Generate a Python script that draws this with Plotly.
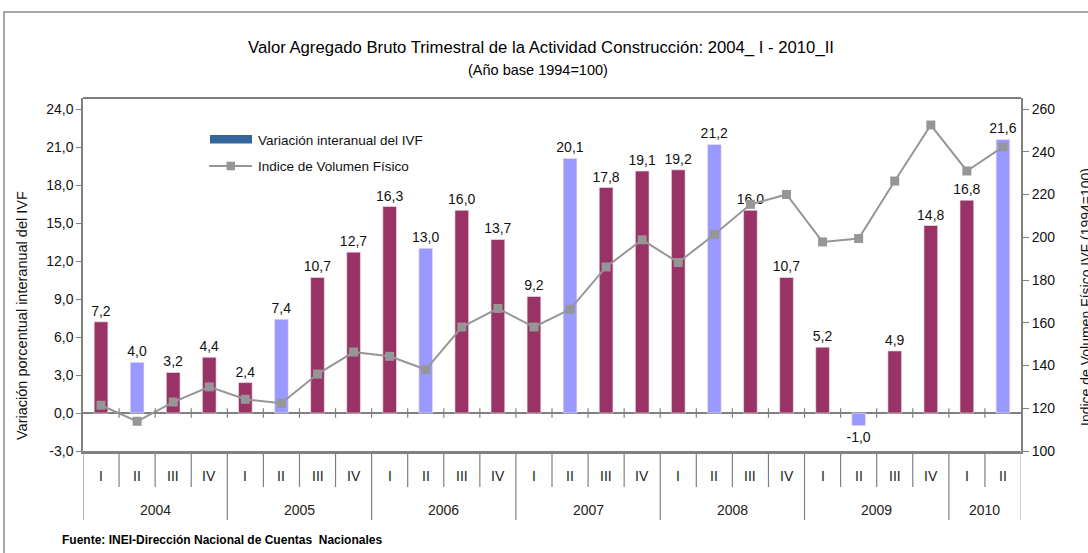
import plotly.graph_objects as go

# ---------------- data ----------------
years = ["2004", "2005", "2006", "2007", "2008", "2009", "2010"]
quarters_per_year = [4, 4, 4, 4, 4, 4, 2]
quarter_names = ["I", "II", "III", "IV"]
quarters = [quarter_names[q] for n in quarters_per_year for q in range(n)]

variacion_ivf = [7.2, 4.0, 3.2, 4.4,
                 2.4, 7.4, 10.7, 12.7,
                 16.3, 13.0, 16.0, 13.7,
                 9.2, 20.1, 17.8, 19.1,
                 19.2, 21.2, 16.0, 10.7,
                 5.2, -1.0, 4.9, 14.8,
                 16.8, 21.6]

indice_vf = [121.4, 113.9, 122.9, 130.0,
             124.2, 122.3, 136.0, 146.3,
             144.3, 138.1, 158.0, 166.7,
             158.0, 166.3, 186.1, 198.8,
             188.2, 201.3, 215.4, 220.0,
             197.8, 199.4, 226.3, 252.5,
             231.0, 242.3]

left_ticks = [-3, 0, 3, 6, 9, 12, 15, 18, 21, 24]
left_tick_text = [f"{v:.1f}".replace(".", ",") for v in left_ticks]
right_ticks = [100, 120, 140, 160, 180, 200, 220, 240, 260]

title = "Valor Agregado Bruto Trimestral de la Actividad Construcción: 2004_ I - 2010_II"
subtitle = "(Año base 1994=100)"
left_title = "Variación porcentual interanual del IVF"
right_title = "Indice de Volumen Físico IVF (1994=100)"
source = "Fuente: INEI-Dirección Nacional de Cuentas  Nacionales"
legend_bar = "Variación interanual del IVF"
legend_line = "Indice de Volumen Físico"

# ---------------- styling ----------------
W, H = 1088, 553
PL, PR, PT, PB = 83, 1021, 98, 451      # plot-area pixel box
MAROON = "#993366"
LILAC = "#9999FF"
LEGBLUE = "#34659B"
GRAY = "#969696"
AXGRAY = "#808080"
FONT = "Liberation Sans, Arial, sans-serif"


def px(xp):
    return (xp - PL) / (PR - PL)


def py(yp):
    return (PB - yp) / (PB - PT)


n = len(variacion_ivf)
xs = list(range(n))
bar_colors = [LILAC if q == "II" else MAROON for q in quarters]
bar_text = [f"{v:.1f}".replace(".", ",") for v in variacion_ivf]

fig = go.Figure()
fig.add_trace(go.Bar(
    x=xs, y=variacion_ivf, marker=dict(color=bar_colors, line=dict(color="#f3e6ee", width=0.6)),
    width=0.38, text=bar_text, texttemplate="%{text}", textposition="outside",
    textfont=dict(family=FONT, size=14, color="#111111"), constraintext="none",
    cliponaxis=False, yaxis="y", showlegend=False, hoverinfo="skip"))
fig.add_trace(go.Scatter(
    x=xs, y=indice_vf, mode="lines+markers", yaxis="y2",
    line=dict(color=GRAY, width=2), marker=dict(symbol="square", size=9, color=GRAY),
    showlegend=False, hoverinfo="skip", cliponaxis=False))

# left axis range: -3 at PB, 24 at y pixel 109
lpp = (PB - 109) / 27.0
lmax = 24 + (109 - PT) / lpp
rpp = (PB - 109) / 160.0
rmax = 260 + (109 - PT) / rpp

shapes = []
annotations = []

# outer chart border
shapes.append(dict(type="rect", xref="paper", yref="paper", x0=px(4), x1=px(1110), y0=py(12), y1=py(570),
                   line=dict(color="#8a8a8a", width=1.5), layer="below"))
# top frame of plot area
shapes.append(dict(type="line", xref="paper", yref="paper", x0=0, x1=1, y0=1, y1=1,
                   line=dict(color="#555555", width=1.3)))

# category separators under the axis
year_bounds = set()
acc = 0
year_centers = []
for yname, nq in zip(years, quarters_per_year):
    year_bounds.add(acc)
    year_centers.append(acc + (nq - 1) / 2)
    acc += nq
year_bounds.add(acc)
for b in range(n + 1):
    long = b in year_bounds
    shapes.append(dict(type="line", xref="x", yref="paper", x0=b - 0.5, x1=b - 0.5,
                       y0=0, y1=py(520 if long else 487),
                       line=dict(color=AXGRAY if b < n else "#b0b0b0", width=1.2)))
    if 0 < b < n:
        shapes.append(dict(type="line", xref="x", yref="y", x0=b - 0.5, x1=b - 0.5,
                           y0=-0.38, y1=0.38, line=dict(color=AXGRAY, width=1.2)))

# quarter & year labels
for i, q in enumerate(quarters):
    annotations.append(dict(x=i, y=py(476), xref="x", yref="paper", text=q, showarrow=False,
                            font=dict(family=FONT, size=14, color="#222222"), yanchor="middle"))
for yname, c in zip(years, year_centers):
    annotations.append(dict(x=c, y=py(510), xref="x", yref="paper", text=yname, showarrow=False,
                            font=dict(family=FONT, size=14, color="#222222"), yanchor="middle"))

# titles
annotations.append(dict(x=px(541), y=py(47), xref="paper", yref="paper", text=title, showarrow=False,
                        font=dict(family=FONT, size=16.7, color="#000000"), yanchor="middle"))
annotations.append(dict(x=px(538), y=py(70), xref="paper", yref="paper", text=subtitle, showarrow=False,
                        font=dict(family=FONT, size=14.5, color="#000000"), yanchor="middle"))
annotations.append(dict(x=px(22), y=py(316), xref="paper", yref="paper", text=left_title, showarrow=False,
                        textangle=-90, font=dict(family=FONT, size=14.5, color="#111111"),
                        xanchor="center", yanchor="middle"))
annotations.append(dict(x=px(1086), y=py(297), xref="paper", yref="paper", text=right_title, showarrow=False,
                        textangle=-90, font=dict(family=FONT, size=14, color="#111111"),
                        xanchor="center", yanchor="middle"))
annotations.append(dict(x=px(60), y=py(540), xref="paper", yref="paper", text="<b>" + source + "</b>",
                        showarrow=False, font=dict(family=FONT, size=12, color="#000000"),
                        xanchor="left", yanchor="middle"))

# manual legend
shapes.append(dict(type="rect", xref="paper", yref="paper", x0=px(210), x1=px(252), y0=py(143.5), y1=py(135),
                   fillcolor=LEGBLUE, line=dict(width=0)))
shapes.append(dict(type="line", xref="paper", yref="paper", x0=px(209), x1=px(252), y0=py(166), y1=py(166),
                   line=dict(color=GRAY, width=2)))
shapes.append(dict(type="rect", xref="paper", yref="paper", x0=px(226.5), x1=px(235), y0=py(170.3), y1=py(161.7),
                   fillcolor=GRAY, line=dict(width=0)))
annotations.append(dict(x=px(256), y=py(140), xref="paper", yref="paper", text=legend_bar, showarrow=False,
                        font=dict(family=FONT, size=13.5, color="#111111"), xanchor="left", yanchor="middle"))
annotations.append(dict(x=px(256), y=py(166), xref="paper", yref="paper", text=legend_line, showarrow=False,
                        font=dict(family=FONT, size=13.5, color="#111111"), xanchor="left", yanchor="middle"))

fig.update_layout(
    width=W, height=H,
    margin=dict(l=PL, r=W - PR, t=PT, b=H - PB, pad=0),
    paper_bgcolor="white", plot_bgcolor="white",
    separators=",.",
    showlegend=False,
    bargap=0.6,
    xaxis=dict(range=[-0.5, n - 0.5], showticklabels=False, showgrid=False, zeroline=False,
               showline=True, linecolor=AXGRAY, linewidth=2.5, ticks="", fixedrange=True,
               automargin=False),
    yaxis=dict(range=[-3, lmax], tickvals=left_ticks, ticktext=left_tick_text, showgrid=False,
               zeroline=True, zerolinecolor=AXGRAY, zerolinewidth=1.5,
               showline=True, linecolor=AXGRAY, linewidth=1.5, ticks="outside", ticklen=5,
               tickcolor=AXGRAY, tickfont=dict(family=FONT, size=14, color="#111111"),
               automargin=False),
    yaxis2=dict(range=[100, rmax], tickvals=right_ticks, overlaying="y", side="right", showgrid=False,
                zeroline=False, showline=True, linecolor=AXGRAY, linewidth=2, ticks="outside", ticklen=6,
                tickcolor=AXGRAY, tickfont=dict(family=FONT, size=14, color="#111111"),
                automargin=False),
    shapes=shapes,
    annotations=annotations,
)

fig.write_html("out.html", config={"displayModeBar": False},
               post_script="document.body.style.margin='0px';")
